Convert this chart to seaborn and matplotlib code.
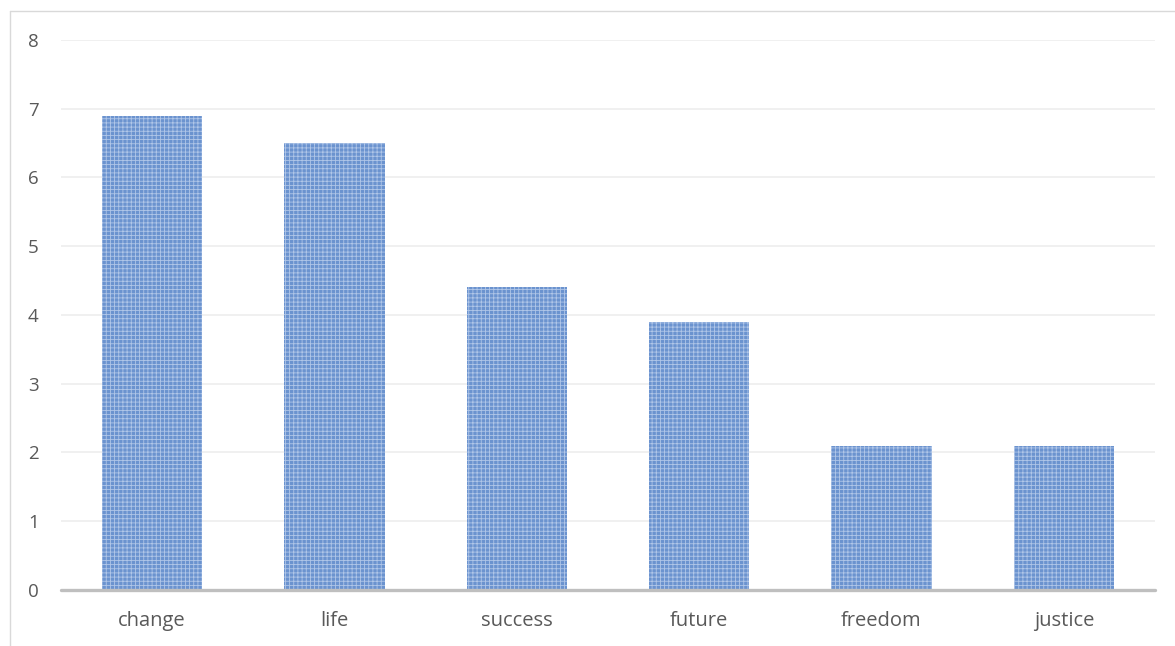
import matplotlib
matplotlib.use('Agg')
import matplotlib.pyplot as plt
import pandas as pd
import seaborn as sns
from matplotlib.lines import Line2D

# Data
categories = ['change', 'life', 'success', 'future', 'freedom', 'justice']
values = [6.9, 6.5, 4.4, 3.9, 2.1, 2.1]
y_ticks = [0, 1, 2, 3, 4, 5, 6, 7, 8]

df = pd.DataFrame({'word': categories, 'value': values})

sns.set_style('white')
plt.rcParams['font.family'] = ['Open Sans', 'DejaVu Sans']
plt.rcParams['hatch.linewidth'] = 0.6

fig = plt.figure(figsize=(11.75, 6.46), dpi=100)
ax = fig.add_axes([0.0519, 0.0867, 0.9311, 0.8514])

sns.barplot(data=df, x='word', y='value', color='#6b93cf', width=0.55,
            saturation=1, ax=ax, zorder=3)

# pattern-like fill similar to the Excel texture
for bar in ax.patches:
    bar.set_hatch('++++')
    bar.set_edgecolor('#b0c6e8')
    bar.set_linewidth(0)

ax.set_ylim(0, 8)
ax.set_xlim(-0.5, len(categories) - 0.5)
ax.set_yticks(y_ticks)
ax.yaxis.grid(True, color='#ececec', linewidth=1.1, zorder=0)
ax.set_axisbelow(True)
ax.axhline(0, color='#bfbfbf', linewidth=2.4, zorder=4, clip_on=False)

for side in ['top', 'right', 'left', 'bottom']:
    ax.spines[side].set_visible(False)

ax.tick_params(axis='y', length=0, labelsize=13.5, labelcolor='#595959', pad=16)
ax.tick_params(axis='x', length=0, labelsize=14.5, labelcolor='#595959', pad=15)
ax.set_xlabel('')
ax.set_ylabel('')

# outer chart frame (left and top edges visible in the crop)
fig.add_artist(Line2D([0.0085, 0.0085], [0, 0.983], transform=fig.transFigure,
                      color='#d9d9d9', linewidth=1))
fig.add_artist(Line2D([0.0085, 1.0], [0.983, 0.983], transform=fig.transFigure,
                      color='#d9d9d9', linewidth=1))

plt.savefig('out.png', dpi=100)
